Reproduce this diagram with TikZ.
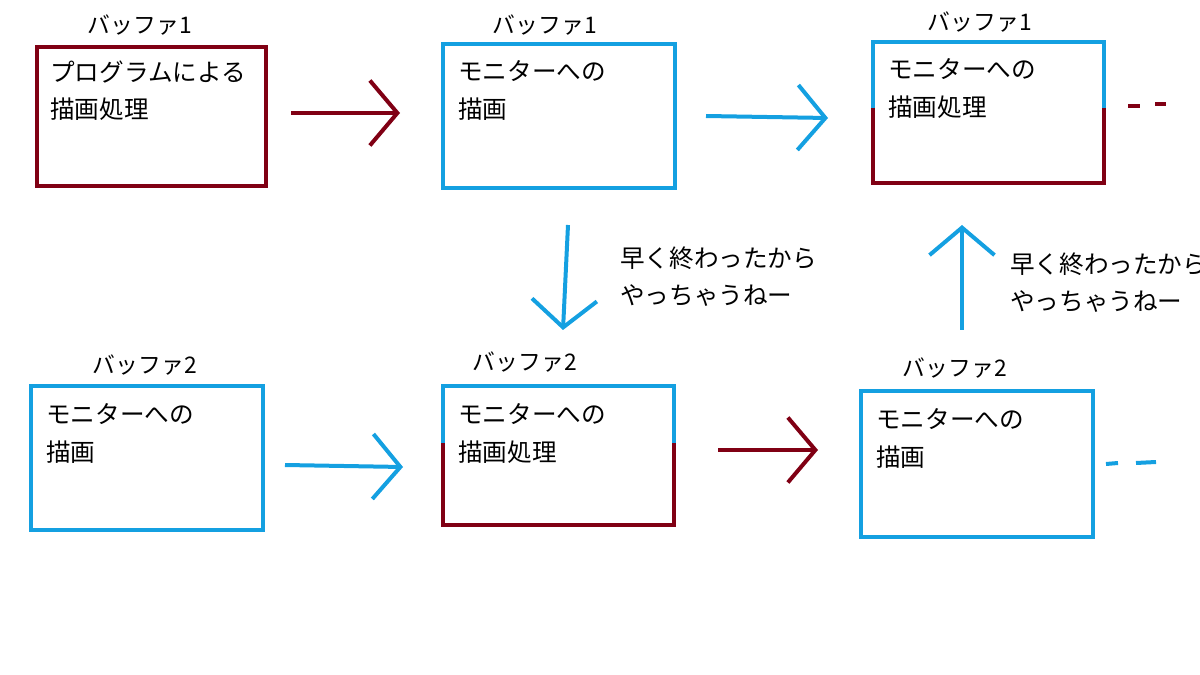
\documentclass[tikz,border=0pt]{standalone}
\usepackage{fontspec}
\setmainfont{Noto Sans CJK JP}
\usetikzlibrary{arrows.meta}
\definecolor{dred}{RGB}{128,0,20}
\definecolor{sky}{RGB}{20,160,225}
\begin{document}
\begin{tikzpicture}[x=0.02cm,y=-0.02cm,
  lw/.style={line width=0.08cm},
  ttl/.style={font=\fontsize{13}{15}\selectfont,inner sep=0},
  txt/.style={font=\fontsize{14}{21.5}\selectfont,align=left,anchor=north west,inner sep=0},
  arr/.style={lw,-{Straight Barb[length=0.55cm,width=1.3cm,line width=0.08cm]}}]
\useasboundingbox (0,0) rectangle (1200,675);
% top row
\draw[lw,dred] (37,47) rectangle (266,186);
\node[ttl] (t1) at (140,25) {バッファ1};
\node[txt] (x1) at (50,60) {プログラムによる\\描画処理};
\draw[lw,sky] (443,44) rectangle (675,188);
\node[ttl] (t2) at (545,25) {バッファ1};
\node[txt] (x2) at (458,60) {モニターへの\\描画};
\node[txt] (x3) at (888,58) {モニターへの\\描画処理};
\draw[lw,sky] (873,108) -- (873,42) -- (1104,42) -- (1104,108);
\draw[lw,dred] (873,108) -- (873,183) -- (1104,183) -- (1104,108);
\node[ttl] (t3) at (980,22) {バッファ1};
\draw[lw,dred] (1128,106) -- (1140,106) (1155,104) -- (1166,104);
% bottom row
\draw[lw,sky] (31,386) rectangle (263,530);
\node[ttl] (t4) at (145,365) {バッファ2};
\node[txt] (x4) at (46,403) {モニターへの\\描画};
\node[txt] (x5) at (458,403) {モニターへの\\描画処理};
\draw[lw,sky] (443,443) -- (443,386) -- (674,386) -- (674,443);
\draw[lw,dred] (443,443) -- (443,525) -- (674,525) -- (674,443);
\node[ttl] (t5) at (525,362) {バッファ2};
\draw[lw,sky] (861,391) rectangle (1093,537);
\node[ttl] (t6) at (955,368) {バッファ2};
\node[txt] (x6) at (876,408) {モニターへの\\描画};
\draw[lw,sky] (1106,464) -- (1118,463) (1136,463) -- (1156,462);
% arrows
\coordinate (a1s) at (291,113); \coordinate (a1e) at (400,113);
\draw[arr,dred] (a1s) -- (a1e);
\coordinate (a2s) at (706,116); \coordinate (a2e) at (828,118);
\draw[arr,sky] (a2s) -- (a2e);
\coordinate (b1s) at (285,465); \coordinate (b1e) at (403,467);
\draw[arr,sky] (b1s) -- (b1e);
\coordinate (b2s) at (718,450); \coordinate (b2e) at (818,450);
\draw[arr,dred] (b2s) -- (b2e);
\coordinate (v1s) at (568,225); \coordinate (v1e) at (563,330);
\draw[arr,sky] (v1s) -- (v1e);
\coordinate (v2s) at (962,330); \coordinate (v2e) at (962,225);
\draw[arr,sky] (v2s) -- (v2e);
\node[txt] (l1) at (620,246) {早く終わったから\\やっちゃうねー};
\node[txt] (l2) at (1010,252) {早く終わったから\\やっちゃうねー};
\end{tikzpicture}
\end{document}
